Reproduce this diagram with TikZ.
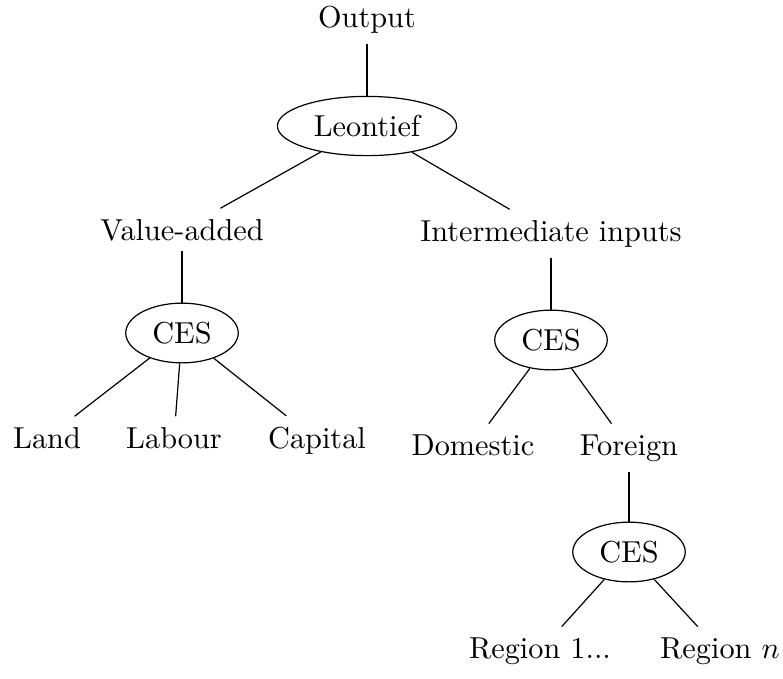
\documentclass[tikz,border=0pt]{standalone}
\usetikzlibrary{shapes.geometric}

\begin{document}
\begin{tikzpicture}[-,auto,x=0.33pt,y=-0.33pt,
  main node/.style={ellipse,draw},
  leaf/.style={anchor=base}]
  \useasboundingbox (0,0) rectangle (783,678);
  \node[leaf] (1) at (367,27) {Output};
  \node[main node] (2) at (367,126) {Leontief};
  \node[leaf] (3) at (182,240) {Value-added};
  \node[leaf] (4) at (551,241) {Intermediate inputs};
  \node[main node] (5) at (182,333) {CES};
  \node[leaf] (6) at (47,448) {Land};
  \node[leaf] (7) at (174,448) {Labour};
  \node[leaf] (8) at (317,448) {Capital};
  \node[main node] (9) at (551,340) {CES};
  \node[leaf] (10) at (473,455) {Domestic};
  \node[leaf] (11) at (629,455) {Foreign};
  \node[main node] (12) at (629,552) {CES};
  \node[leaf] (13) at (540,658) {Region 1...};
  \node[leaf] (14) at (720,658) {Region $n$};
  \path
    (1) edge (2)
    (2) edge (3)
        edge (4)
    (3) edge (5)
    (5) edge (6)
        edge (7)
        edge (8)
    (4) edge (9)
    (9) edge (10)
        edge (11)
    (11) edge (12)
    (12) edge (13)
         edge (14);
\end{tikzpicture}
\end{document}
